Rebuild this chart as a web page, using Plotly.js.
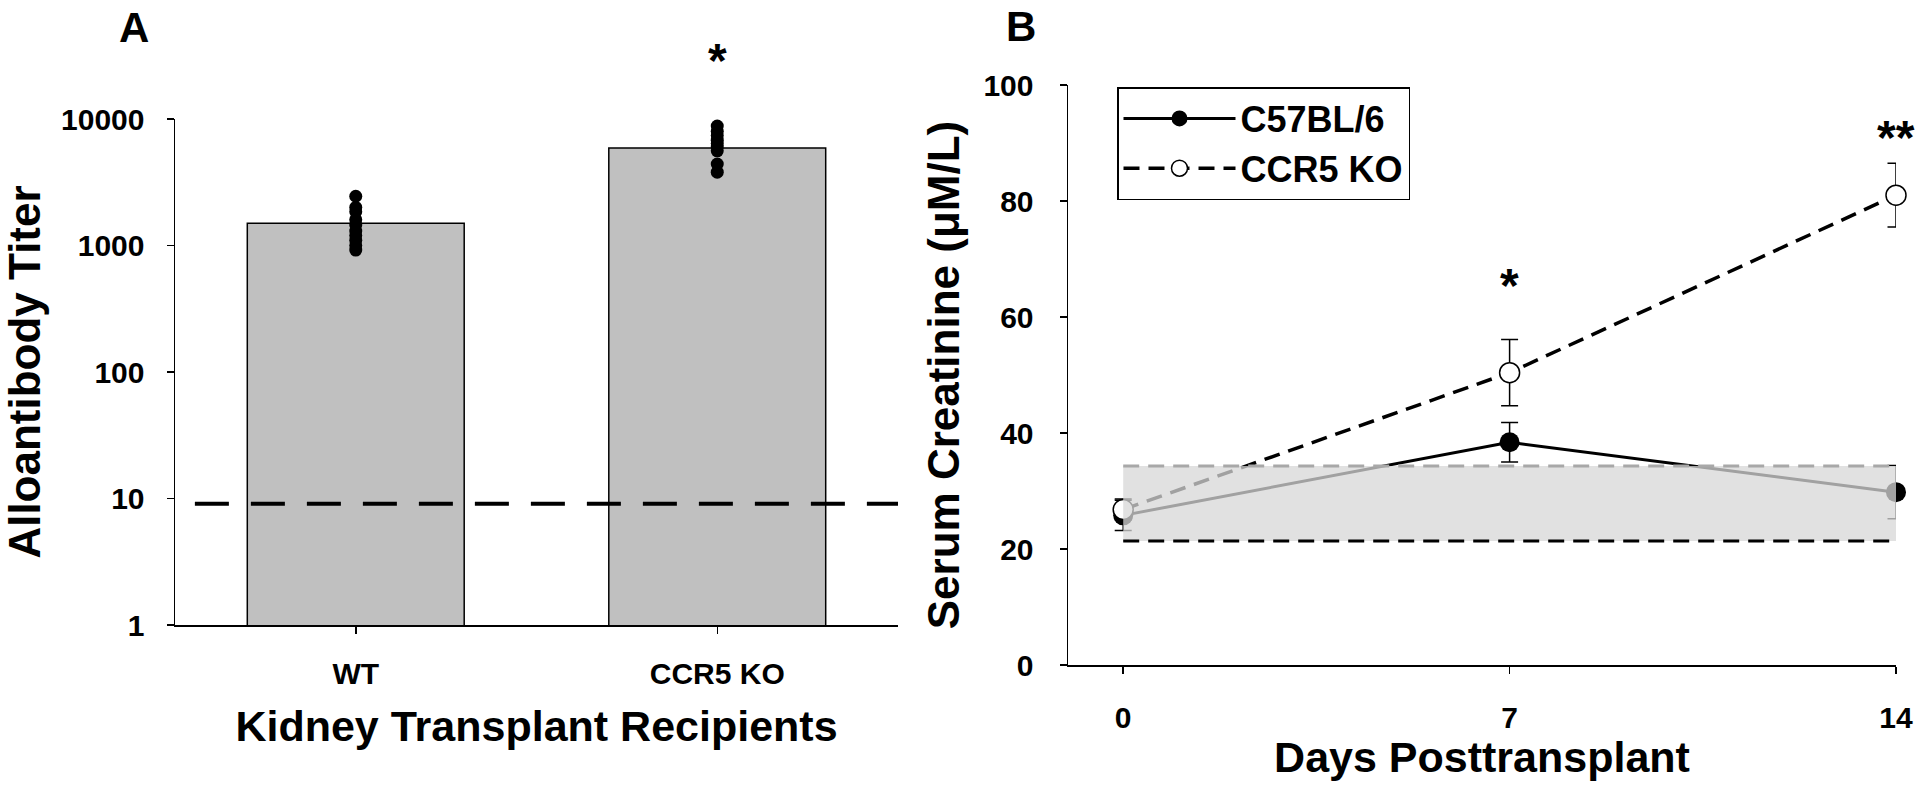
<!DOCTYPE html>
<html>
<head>
<meta charset="utf-8">
<script src="https://cdn.plot.ly/plotly-3.0.1.min.js"></script>
<style>
  body { margin: 0; background: #fff; }
  #chart { width: 1920px; height: 801px; }
</style>
</head>
<body>
<div id="chart"></div>
<script>
// panel A: alloantibody titers
const groups = ['WT', 'CCR5 KO'];
const titerMean = [1500, 5900];
const titerSem = [170, 700];
const wtTiters = [2450, 2000, 1850, 1600, 1450, 1300, 1200, 1100, 1000, 920];
const koTiters = [8800, 8000, 7400, 6800, 6400, 6000, 5600, 4400, 3800];
const detectionLimit = 9.1;
const titerTicks = [1, 10, 100, 1000, 10000];

// panel B: serum creatinine
const days = [0, 7, 14];
const c57Creat = [25.8, 38.4, 29.8];
const c57Sem = [2.6, 3.4, 4.6];
const koCreat = [26.8, 50.4, 81.0];
const koSem = [1.8, 5.7, 5.5];
const normalRange = [21.4, 34.3];

const W = 1920, H = 801;
const px = x => x / W;
const py = y => 1 - y / H;

const FONT = 'Arial, "Liberation Sans", sans-serif';
const bold = size => ({ family: FONT, size: size, color: '#000', weight: 'bold' });

const axisBase = {
    showline: true, linecolor: '#000', linewidth: 1.5,
    ticks: 'outside', ticklen: 7, tickwidth: 1.5, tickcolor: '#000',
    showgrid: false, zeroline: false, automargin: false,
    tickfont: bold(30)
};

const barTrace = {
    type: 'bar', x: groups, y: titerMean, width: 0.6,
    marker: { color: '#c0c0c0', line: { color: '#000', width: 1.5 } },
    error_y: { type: 'data', array: titerSem, arrayminus: [0, 0], color: '#000', thickness: 1.5, width: 4 },
    xaxis: 'x', yaxis: 'y', showlegend: false, hoverinfo: 'skip'
};

const wtDots = {
    type: 'scatter', mode: 'markers',
    x: wtTiters.map(() => groups[0]), y: wtTiters,
    marker: { color: '#000', size: 13 },
    xaxis: 'x', yaxis: 'y', showlegend: false, cliponaxis: false
};

const koDots = {
    type: 'scatter', mode: 'markers',
    x: koTiters.map(() => groups[1]), y: koTiters,
    marker: { color: '#000', size: 13 },
    xaxis: 'x', yaxis: 'y', showlegend: false, cliponaxis: false
};

const c57Trace = {
    type: 'scatter', mode: 'lines+markers', name: 'C57BL/6',
    x: days, y: c57Creat,
    line: { color: '#000', width: 3 },
    marker: { color: '#000', size: 20 },
    error_y: { type: 'data', array: c57Sem, color: '#000', thickness: 1.5, width: 8.5 },
    xaxis: 'x2', yaxis: 'y2', cliponaxis: false
};

const koTrace = {
    type: 'scatter', mode: 'lines+markers', name: 'CCR5 KO',
    x: days, y: koCreat,
    line: { color: '#000', width: 3.5, dash: '16px,9px' },
    marker: { color: '#fff', size: 20, line: { color: '#000', width: 1.5 } },
    error_y: { type: 'data', array: koSem, color: '#000', thickness: 1.5, width: 8.5 },
    xaxis: 'x2', yaxis: 'y2', cliponaxis: false
};

const layout = {
    width: W, height: H,
    margin: { l: 0, r: 0, t: 0, b: 0 },
    paper_bgcolor: '#fff', plot_bgcolor: 'rgba(0,0,0,0)',
    font: { family: FONT, color: '#000' },
    xaxis: Object.assign({}, axisBase, {
        domain: [px(175), px(898)], anchor: 'y',
        type: 'category', range: [-0.5, 1.5],
        ticklabelstandoff: 14,
        title: { text: 'Kidney Transplant Recipients', font: bold(43), standoff: 22 }
    }),
    yaxis: Object.assign({}, axisBase, {
        domain: [py(625), py(119)], anchor: 'x',
        type: 'log', range: [0, 4],
        tickvals: titerTicks, ticktext: titerTicks.map(String),
        ticklabelstandoff: 16,
        title: { text: 'Alloantibody Titer', font: bold(44), standoff: 10 }
    }),
    xaxis2: Object.assign({}, axisBase, {
        domain: [px(1068), px(1896)], anchor: 'y2',
        range: [-1, 14], tickvals: days,
        ticklabelstandoff: 18,
        title: { text: 'Days Posttransplant', font: bold(43), standoff: 6 }
    }),
    yaxis2: Object.assign({}, axisBase, {
        domain: [py(665), py(85)], anchor: 'x2',
        range: [0, 100], dtick: 20,
        ticklabelstandoff: 20,
        title: { text: 'Serum Creatinine (μM/L)', font: bold(44), standoff: 10 }
    }),
    legend: {
        x: px(1117), y: py(87), xanchor: 'left', yanchor: 'top',
        bgcolor: '#fff', bordercolor: '#000', borderwidth: 1.5,
        font: bold(36), itemwidth: 112
    },
    shapes: [
        { type: 'line', xref: 'x', yref: 'y', x0: -0.445, x1: 1.5, y0: detectionLimit, y1: detectionLimit,
          line: { color: '#000', width: 4, dash: '34px,22px' } },
        { type: 'rect', xref: 'x2', yref: 'y2', x0: days[0], x1: days[2], y0: normalRange[0], y1: normalRange[1],
          fillcolor: 'rgba(215,215,215,0.75)', line: { width: 0 }, layer: 'above' },
        { type: 'line', xref: 'x2', yref: 'y2', x0: days[0], x1: days[2], y0: normalRange[1], y1: normalRange[1],
          line: { color: '#a8a8a8', width: 3, dash: '16px,9px' }, layer: 'above' },
        { type: 'line', xref: 'x2', yref: 'y2', x0: days[0], x1: days[2], y0: normalRange[0], y1: normalRange[0],
          line: { color: '#000', width: 3, dash: '16px,9px' }, layer: 'above' }
    ],
    annotations: [
        { text: 'A', xref: 'paper', yref: 'paper', x: px(117), y: py(28), yanchor: 'middle', showarrow: false, font: bold(42) },
        { text: 'B', xref: 'paper', yref: 'paper', x: px(1021), y: py(27), yanchor: 'middle', showarrow: false, font: bold(42) },
        { text: '*', xref: 'x', yref: 'paper', x: groups[1], y: py(61), yanchor: 'middle', showarrow: false, font: bold(48) },
        { text: '*', xref: 'x2', yref: 'y2', x: days[1], y: 65.5, yanchor: 'middle', showarrow: false, font: bold(48) },
        { text: '**', xref: 'x2', yref: 'y2', x: days[2], y: 91, yanchor: 'middle', showarrow: false, font: bold(48) }
    ]
};

Plotly.newPlot('chart', [barTrace, wtDots, koDots, c57Trace, koTrace], layout, { staticPlot: true });
</script>
</body>
</html>
